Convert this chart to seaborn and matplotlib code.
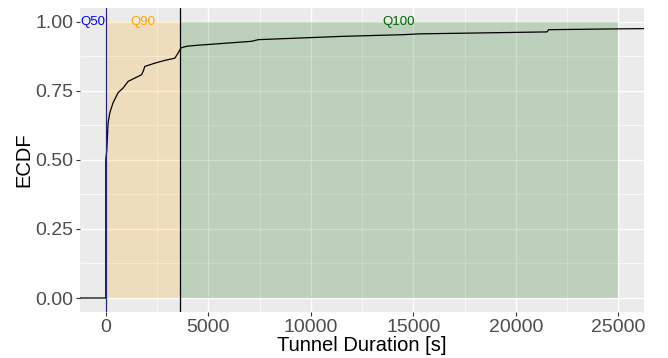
import numpy as np
import matplotlib
matplotlib.use("Agg")
import matplotlib.pyplot as plt
import seaborn as sns
from matplotlib.ticker import MultipleLocator

# ECDF curve (duration in s, cumulative share)
durations = [-1300, 0, 0, 49, 112, 195, 356, 600, 845, 1089, 1416, 1743, 1821,
             1904, 2393, 2881, 3369, 3530, 3662, 3940, 4346, 7115, 7437, 11573,
             14503, 15333, 21520, 21600, 24940, 26400]
ecdf = [0.0, 0.0, 0.50, 0.536, 0.633, 0.670, 0.707, 0.743, 0.760, 0.784, 0.796,
        0.808, 0.820, 0.838, 0.850, 0.860, 0.868, 0.887, 0.905, 0.911, 0.914,
        0.929, 0.935, 0.947, 0.953, 0.956, 0.963, 0.971, 0.974, 0.975]

# quantile bands
q_names = ["Q50", "Q90", "Q100"]
q_values = [30, 3613, 25000]
q_colors = ["blue", "orange", "darkgreen"]
label_x = [-650, 1800, 14300]

sns.set_theme(style="darkgrid")
plt.rcParams["font.family"] = ["Liberation Sans", "DejaVu Sans"]

fig, ax = plt.subplots(figsize=(6.68, 3.58), dpi=100)
fig.subplots_adjust(left=0.12, right=0.964, top=0.978, bottom=0.129)
ax.set_facecolor("#EBEBEB")

# shaded bands
ax.fill_between([q_values[0], q_values[1]], 0, 1, color="orange", alpha=0.2, linewidth=0, zorder=1)
ax.fill_between([q_values[1], q_values[2]], 0, 1, color="darkgreen", alpha=0.2, linewidth=0, zorder=1)

sns.lineplot(x=durations, y=ecdf, color="black", linewidth=0.9, estimator=None,
             sort=False, ax=ax, zorder=3)

ax.axvline(q_values[0], color="#24248a", linewidth=0.9, zorder=4)
ax.axvline(q_values[1], color="black", linewidth=0.9, zorder=4)

for name, lx, col in zip(q_names, label_x, q_colors):
    ax.text(lx, 1.0, name, color=col, fontsize=9.5, ha="center", va="center", zorder=5)

ax.set_xlim(-1250, 26250)
ax.set_ylim(-0.05, 1.05)
ax.xaxis.set_major_locator(MultipleLocator(5000))
ax.xaxis.set_minor_locator(MultipleLocator(2500))
ax.yaxis.set_major_locator(MultipleLocator(0.25))
ax.yaxis.set_minor_locator(MultipleLocator(0.125))
ax.yaxis.set_major_formatter(matplotlib.ticker.FormatStrFormatter("%.2f"))

ax.grid(which="major", color="white", linewidth=1.0)
ax.grid(which="minor", color="white", linewidth=0.5)
ax.set_axisbelow(True)
for s in ax.spines.values():
    s.set_visible(False)

ax.tick_params(which="major", length=3, width=0.8, color="#333333",
               labelsize=14, labelcolor="#4D4D4D", pad=2, left=True, bottom=True)
ax.tick_params(which="minor", length=0)

ax.set_xlabel("Tunnel Duration [s]", fontsize=14.5, color="black", labelpad=0.5)
ax.set_ylabel("ECDF", fontsize=14.5, color="black", labelpad=1)

fig.savefig("out.png", dpi=100)
